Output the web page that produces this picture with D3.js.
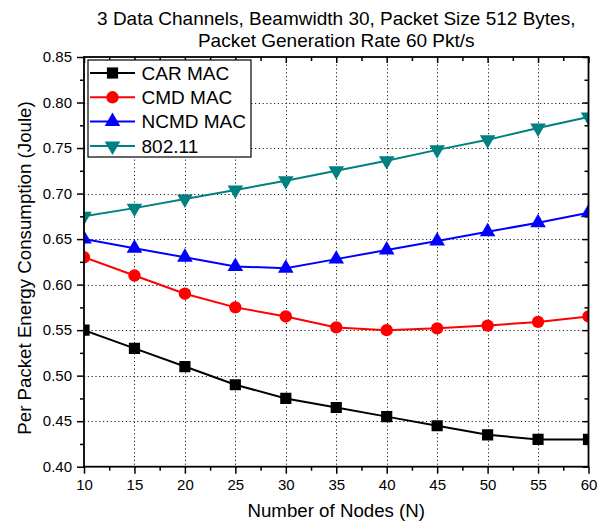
<!DOCTYPE html>
<html>
<head>
<meta charset="utf-8">
<script src="https://cdn.jsdelivr.net/npm/d3@7"></script>
<style>
  html, body { margin: 0; padding: 0; background: #fff; }
  svg { display: block; font-family: "Liberation Sans", Arial, Helvetica, sans-serif; }
</style>
</head>
<body>
<svg id="chart" width="605" height="528"></svg>
<script>
// Number of nodes on the x axis
const nodes = [10, 15, 20, 25, 30, 35, 40, 45, 50, 55, 60];

// Per packet energy consumption (Joule) for each MAC protocol
const carMac   = [0.550, 0.530, 0.510, 0.490, 0.475, 0.465, 0.455, 0.445, 0.435, 0.430, 0.430];
const cmdMac   = [0.630, 0.610, 0.590, 0.575, 0.565, 0.553, 0.550, 0.552, 0.555, 0.559, 0.565];
const ncmdMac  = [0.650, 0.640, 0.630, 0.620, 0.618, 0.628, 0.638, 0.648, 0.658, 0.668, 0.679];
const ieee80211 = [0.675, 0.684, 0.694, 0.704, 0.714, 0.725, 0.736, 0.748, 0.759, 0.772, 0.784];

const seriesNames = ["CAR MAC", "CMD MAC", "NCMD MAC", "802.11"];

// Axis tick labels
const xTicks = [10, 15, 20, 25, 30, 35, 40, 45, 50, 55, 60];
const yTicks = [0.40, 0.45, 0.50, 0.55, 0.60, 0.65, 0.70, 0.75, 0.80, 0.85];

const titleLines = [
  "3 Data Channels, Beamwidth 30, Packet Size 512 Bytes,",
  "Packet Generation Rate 60 Pkt/s"
];
const xLabel = "Number of Nodes (N)";
const yLabel = "Per Packet Energy Consumption (Joule)";

// Series styling
const seriesValues = [carMac, cmdMac, ncmdMac, ieee80211];
const colors  = ["#000000", "#ff0000", "#0000ff", "#008080"];
const symbols = [d3.symbolSquare, d3.symbolCircle, d3.symbolTriangle, d3.symbolTriangle];
const symSize = [125, 120, 105, 105];
const symRot  = [0, 0, 0, 180];

const svg = d3.select("#chart");
const pLeft = 84, pRight = 588.5, pTop = 57, pBottom = 466.7;

const x = d3.scaleLinear().domain([10, 60]).range([pLeft, pRight]);
const y = d3.scaleLinear().domain([0.40, 0.85]).range([pBottom, pTop]);

// Minor ticks every half step
const xMinor = d3.range(12.5, 60, 5);
const yMinor = d3.range(0, 9).map(i => 0.425 + i * 0.05);

// Dotted grid at interior major ticks
const grid = svg.append("g").attr("stroke", "#222").attr("stroke-width", 1)
  .attr("stroke-dasharray", "1.2,2.6");
grid.selectAll("line.gx").data(xTicks.slice(1, -1)).join("line")
  .attr("x1", d => Math.round(x(d)) + 0.5).attr("x2", d => Math.round(x(d)) + 0.5)
  .attr("y1", pTop).attr("y2", pBottom);
grid.selectAll("line.gy").data(yTicks.slice(1, -1)).join("line")
  .attr("y1", d => Math.round(y(d)) + 0.5).attr("y2", d => Math.round(y(d)) + 0.5)
  .attr("x1", pLeft).attr("x2", pRight);

// Data lines and markers, clipped to the plot frame
svg.append("clipPath").attr("id", "plotClip").append("rect")
  .attr("x", pLeft).attr("y", pTop).attr("width", pRight - pLeft).attr("height", pBottom - pTop);

const plot = svg.append("g").attr("clip-path", "url(#plotClip)");
const line = d3.line().x((d, i) => x(nodes[i])).y(d => y(d));

seriesValues.forEach((vals, s) => {
  plot.append("path").datum(vals)
    .attr("fill", "none").attr("stroke", colors[s]).attr("stroke-width", 2)
    .attr("d", line);
  plot.selectAll(null).data(vals).join("path")
    .attr("d", d3.symbol().type(symbols[s]).size(symSize[s]))
    .attr("fill", colors[s])
    .attr("transform", (d, i) => `translate(${x(nodes[i])},${y(d)}) rotate(${symRot[s]})`);
});

// Axes: outward ticks on left/bottom, inward ticks on top/right
const bottomAxis = g => g.call(d3.axisBottom(x).tickValues(xTicks).tickSize(7).tickPadding(6)
  .tickFormat(d3.format("d")));
const leftAxis = g => g.call(d3.axisLeft(y).tickValues(yTicks).tickSize(7).tickPadding(5)
  .tickFormat(d3.format(".2f")));

const gx = svg.append("g").attr("transform", `translate(0,${pBottom})`).call(bottomAxis);
gx.append("g").call(d3.axisBottom(x).tickValues(xMinor).tickSize(4).tickFormat(""));
const gy = svg.append("g").attr("transform", `translate(${pLeft},0)`).call(leftAxis);
gy.append("g").call(d3.axisLeft(y).tickValues(yMinor).tickSize(4).tickFormat(""));

const gt = svg.append("g").attr("transform", `translate(0,${pTop})`);
gt.call(d3.axisBottom(x).tickValues(xTicks).tickSize(6).tickFormat(""));
gt.append("g").call(d3.axisBottom(x).tickValues(xMinor).tickSize(4).tickFormat(""));
const gr = svg.append("g").attr("transform", `translate(${pRight},0)`);
gr.call(d3.axisLeft(y).tickValues(yTicks).tickSize(6).tickFormat(""));
gr.append("g").call(d3.axisLeft(y).tickValues(yMinor).tickSize(4).tickFormat(""));

svg.selectAll(".domain").remove();
svg.selectAll(".tick line").attr("stroke", "#000").attr("stroke-width", 1.5);
svg.selectAll(".tick text").attr("font-size", 15).attr("fill", "#000")
  .attr("font-family", "'Liberation Sans', Arial, sans-serif");

// Plot frame
svg.append("rect").attr("x", pLeft).attr("y", pTop)
  .attr("width", pRight - pLeft).attr("height", pBottom - pTop)
  .attr("fill", "none").attr("stroke", "#000").attr("stroke-width", 1.8);

// Legend
const lg = svg.append("g").attr("transform", "translate(88,60)");
lg.append("rect").attr("width", 163).attr("height", 97)
  .attr("fill", "#fff").attr("stroke", "#000").attr("stroke-width", 1.2);
seriesNames.forEach((name, s) => {
  const ry = 13 + s * 24.3;
  lg.append("line").attr("x1", 2).attr("x2", 47).attr("y1", ry).attr("y2", ry)
    .attr("stroke", colors[s]).attr("stroke-width", 2);
  lg.append("path")
    .attr("d", d3.symbol().type(symbols[s]).size(symSize[s]))
    .attr("fill", colors[s])
    .attr("transform", `translate(24.5,${ry}) rotate(${symRot[s]})`);
  lg.append("text").attr("x", 53.5).attr("y", ry).attr("dy", "0.36em")
    .attr("font-size", 19).text(name);
});

// Titles
const cx = (pLeft + pRight) / 2;
svg.append("text").attr("x", cx).attr("y", 25).attr("text-anchor", "middle")
  .attr("font-size", 19).text(titleLines[0]);
svg.append("text").attr("x", cx).attr("y", 47).attr("text-anchor", "middle")
  .attr("font-size", 19).text(titleLines[1]);
svg.append("text").attr("x", cx).attr("y", 517).attr("text-anchor", "middle")
  .attr("font-size", 18.7).text(xLabel);
svg.append("text").attr("transform", "translate(31,268) rotate(-90)")
  .attr("text-anchor", "middle").attr("font-size", 18.7).text(yLabel);
</script>
</body>
</html>
